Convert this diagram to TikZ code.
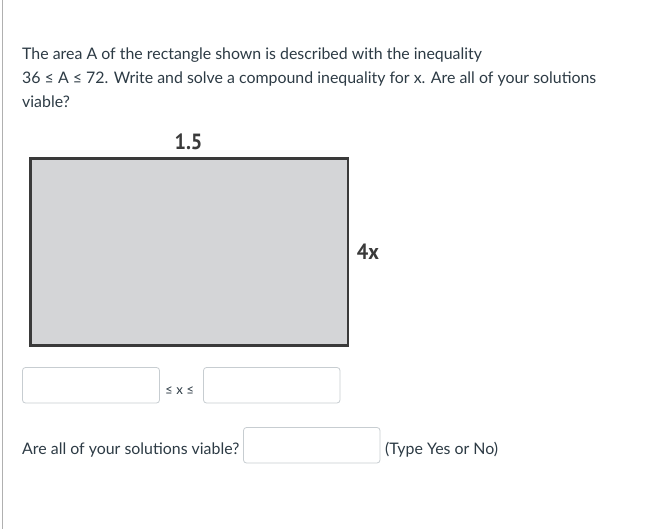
\documentclass[tikz,border=0pt]{standalone}
\usepackage{fontspec}
\setmainfont{Lato}
\newfontfamily\labelfont{PT Sans}
\definecolor{txt}{HTML}{2D3B45}
\definecolor{boxline}{HTML}{C7CDD1}
\definecolor{rectfill}{HTML}{D4D5D7}
\definecolor{rectline}{HTML}{3A3A3A}
\definecolor{pageline}{HTML}{B0B0B0}
\newcommand{\dimtxt}[1]{\scalebox{0.92}[1]{#1}}
\tikzset{
  qtext/.style={anchor=base west, inner sep=0pt, text=txt, font=\fontsize{15.9pt}{18pt}\selectfont},
  smalltext/.style={anchor=base west, inner sep=0pt, text=txt, font=\fontsize{13.3pt}{15pt}\selectfont},
  inbox/.style={draw=boxline, line width=0.8pt, rounded corners=3pt, fill=white},
  dimlabel/.style={inner sep=0pt, text=rectline, font=\labelfont\bfseries\fontsize{22pt}{24pt}\selectfont}
}
\begin{document}
\begin{tikzpicture}[x=1pt,y=-1pt]
\useasboundingbox[fill=white] (0,0) rectangle (661,529);
\draw[pageline, line width=1pt] (2,0) -- (2,529);
% question text
\node[qtext] (l1) at (22,59.5) {The area A of the rectangle shown is described with the inequality};
\node[qtext] (l2) at (22,83.5) {36 ≤ A ≤ 72. Write and solve a compound inequality for x. Are all of your solutions};
\node[qtext] (l3) at (22,107.5) {viable?};
% rectangle
\draw[fill=rectfill, draw=rectline, line width=2.3pt] (30.5,158.5) rectangle (348,345.5);
\node[dimlabel] (w) at (188.5,142) {\dimtxt{1.5}};
\node[dimlabel] (h) at (368,252) {\dimtxt{4x}};
% inputs
\draw[inbox] (22.5,367.5) rectangle (159.5,403);
\node[smalltext] (ineq) at (165,394.5) {≤ x ≤};
\draw[inbox] (203.5,367.5) rectangle (340,403);
\node[qtext] (q2) at (22,454.5) {Are all of your solutions viable?};
\draw[inbox] (243.5,427.5) rectangle (380,463);
\node[qtext] (hint) at (385,454.5) {(Type Yes or No)};
\end{tikzpicture}
\end{document}
